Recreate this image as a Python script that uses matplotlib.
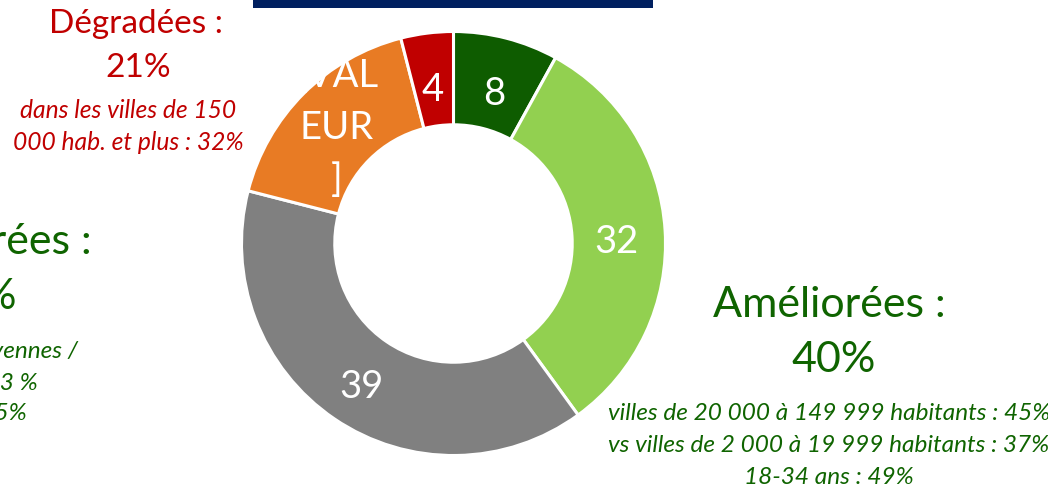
import matplotlib.pyplot as plt
import numpy as np
from matplotlib.patches import Rectangle

plt.rcParams['font.family'] = ['Lato', 'DejaVu Sans']

# donut data (clockwise from 12 o'clock)
values = [8, 32, 39, 17, 4]
labels = ['8', '32', '39', '[VAL\nEUR\n]', '4']
colors = ['#0E5C00', '#92D050', '#808080', '#E87B24', '#C00000']

W, H = 1048, 492
fig = plt.figure(figsize=(W / 100, H / 100), dpi=100)

def px(x, y):
    return x / W, 1 - y / H

# donut axes placed on the pixel box of the ring
cx, cy, r = 453.5, 243.5, 212
ax = fig.add_axes([(cx - r) / W, 1 - (cy + r) / H, 2 * r / W, 2 * r / H])
wedges, _ = ax.pie(values, colors=colors, startangle=90, counterclock=False,
                   radius=1, wedgeprops=dict(width=0.44, edgecolor='white', linewidth=2.2))
ax.set_xlim(-1, 1)
ax.set_ylim(-1, 1)
ax.axis('off')

for w, lab in zip(wedges, labels):
    ang = np.deg2rad((w.theta1 + w.theta2) / 2)
    if '\n' in lab:
        ax.text(0.78 * np.cos(ang), 0.77 * np.sin(ang), lab, ha='center', va='center',
                color='white', fontsize=27.5, linespacing=1.55)
    else:
        ax.text(0.77 * np.cos(ang), 0.77 * np.sin(ang) - 0.025, lab, ha='center',
                va='center_baseline', color='white', fontsize=27.5)

# navy title bar (cropped)
fig.patches.append(Rectangle(px(253, 8), 400 / W, 8 / H, transform=fig.transFigure,
                             facecolor='#002060', edgecolor='none'))

red = '#C00000'
green = '#0F6400'

# Dégradées block
fig.text(*px(136, 24), 'Dégradées :', color=red, fontsize=24, ha='center', va='center')
fig.text(*px(138, 68), '21%', color=red, fontsize=24, ha='center', va='center')
fig.text(*px(128, 111), 'dans les villes de 150', color=red, fontsize=17.7,
         style='italic', ha='center', va='center')
fig.text(*px(128, 142), '000 hab. et plus : 32%', color=red, fontsize=17.7,
         style='italic', ha='center', va='center')

# Améliorées block (right)
fig.text(*px(829, 305), 'Améliorées :', color=green, fontsize=31, ha='center', va='center')
fig.text(*px(834, 360), '40%', color=green, fontsize=31, ha='center', va='center')
right_lines = ['villes de 20 000 à 149 999 habitants : 45%',
               'vs villes de 2 000 à 19 999 habitants : 37%',
               '18-34 ans : 49%']
for yy, line in zip([414, 446, 478], right_lines):
    fig.text(*px(829, yy), line, color=green, fontsize=17.6, style='italic',
             ha='center', va='center')

# left block, cut by the left edge as in the source slide
fig.text(*px(92, 242), 'Améliorées :', color=green, fontsize=31, ha='right', va='center')
fig.text(*px(17, 297), '38%', color=green, fontsize=31, ha='right', va='center')
left_lines = ['dans les villes moyennes /', 'villes de 20 000 à 49 999 hab. : 43 %',
              '18-34 ans : 45%']
for yy, xx, line in zip([351, 383, 414], [78, 38, 27], left_lines):
    fig.text(*px(xx, yy), line, color=green, fontsize=17.6, style='italic',
             ha='right', va='center')

fig.savefig('out.png', dpi=100, facecolor='white')
